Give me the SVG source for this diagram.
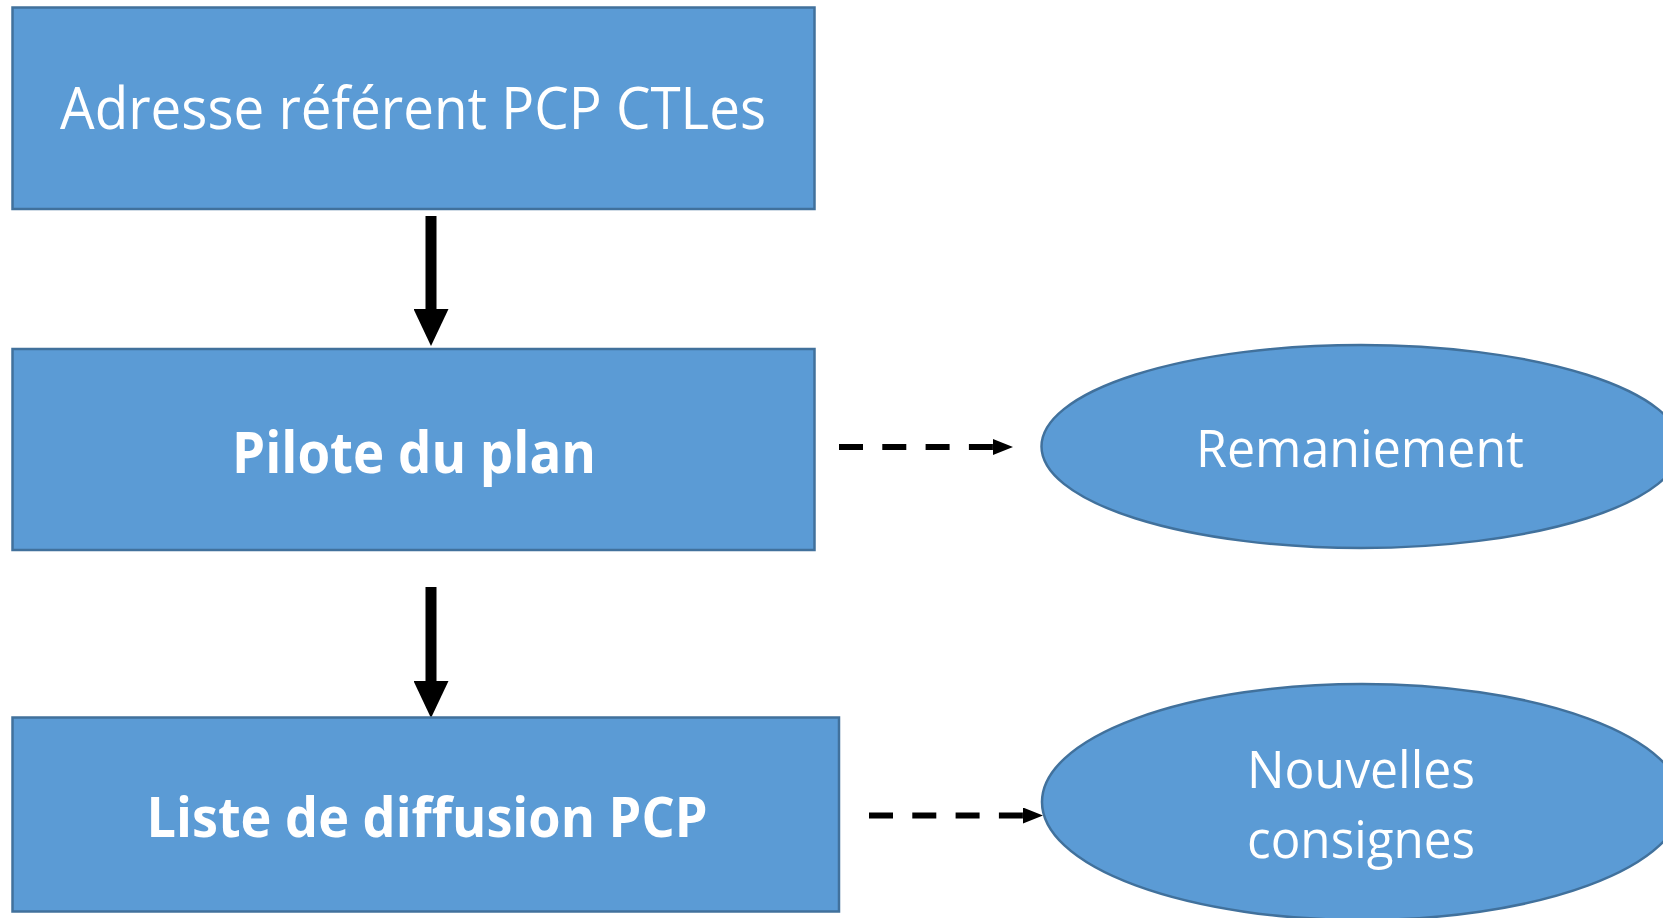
<svg xmlns="http://www.w3.org/2000/svg" width="1663" height="918" viewBox="0 0 1663 918">
<style>
.box{fill:#5B9BD5;stroke:#41719C;stroke-width:2.5}
.t{fill:#FFFFFF;font-family:"Open Sans","Liberation Sans",sans-serif;text-anchor:middle}
.b{font-weight:bold}
.solid{stroke:#000;stroke-width:11;fill:none}
.dash{stroke:#000;stroke-width:6;fill:none}
</style>
<defs>
<marker id="bigHead" markerUnits="userSpaceOnUse" viewBox="0 0 37 35" refX="0" refY="17.5" markerWidth="37" markerHeight="35" orient="auto">
<path d="M0,0 L37,17.5 L0,35 Z" fill="#000"/>
</marker>
<marker id="smallHead" markerUnits="userSpaceOnUse" viewBox="0 0 20 16" refX="0" refY="8" markerWidth="20" markerHeight="16" orient="auto">
<path d="M0,0 L20,8 L0,16 Z" fill="#000"/>
</marker>
</defs>
<rect width="1663" height="918" fill="#FFFFFF"/>
<g id="connectors">
<line class="solid" x1="431" y1="216" x2="431" y2="309" marker-end="url(#bigHead)"/>
<line class="solid" x1="431" y1="587" x2="431" y2="681" marker-end="url(#bigHead)"/>
<line class="dash" x1="839" y1="447" x2="993" y2="447" stroke-dasharray="24 19.3" marker-end="url(#smallHead)"/>
<line class="dash" x1="869" y1="815.5" x2="1023" y2="815.5" stroke-dasharray="24 19.3" marker-end="url(#smallHead)"/>
</g>
<g id="node-adresse">
<rect class="box" x="12.5" y="7.5" width="802" height="201.5"/>
<text class="t" x="413" y="129" font-size="58" textLength="706" lengthAdjust="spacingAndGlyphs">Adresse référent PCP CTLes</text>
</g>
<g id="node-pilote">
<rect class="box" x="12.5" y="349" width="802" height="201"/>
<text class="t b" x="414" y="473" font-size="57" textLength="364" lengthAdjust="spacingAndGlyphs">Pilote du plan</text>
</g>
<g id="node-liste">
<rect class="box" x="12.5" y="717.5" width="826.5" height="194"/>
<text class="t b" x="427" y="837" font-size="56" textLength="561" lengthAdjust="spacingAndGlyphs">Liste de diffusion PCP</text>
</g>
<g id="node-remaniement">
<ellipse class="box" cx="1361" cy="446.5" rx="319.5" ry="101.5" stroke-width="2"/>
<text class="t" x="1360" y="467" font-size="51" textLength="328" lengthAdjust="spacingAndGlyphs">Remaniement</text>
</g>
<g id="node-nouvelles">
<ellipse class="box" cx="1362" cy="802" rx="320" ry="118" stroke-width="2"/>
<text class="t" x="1361" y="788" font-size="51" textLength="228" lengthAdjust="spacingAndGlyphs">Nouvelles</text>
<text class="t" x="1361" y="858" font-size="51" textLength="228" lengthAdjust="spacingAndGlyphs">consignes</text>
</g>
</svg>
